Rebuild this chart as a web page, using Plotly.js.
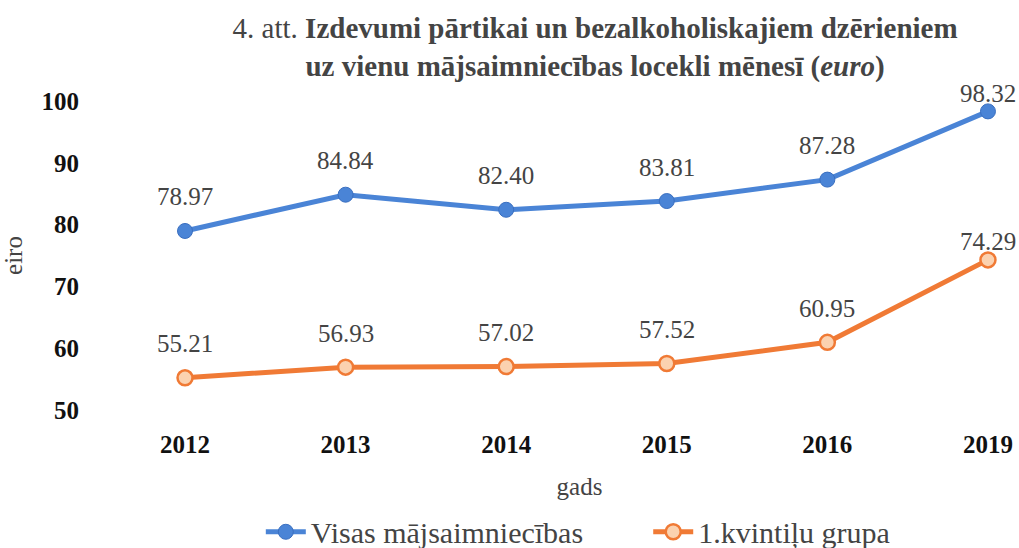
<!DOCTYPE html>
<html><head><meta charset="utf-8">
<script src="https://cdn.plot.ly/plotly-3.0.1.min.js"></script>
<style>body{margin:0;background:#fff}#c{width:1019px;height:548px}</style>
</head><body><div id="c"></div>
<script>
const years = ['2012','2013','2014','2015','2016','2019'];
const allHouseholds = [78.97, 84.84, 82.40, 83.81, 87.28, 98.32];
const quintile1 = [55.21, 56.93, 57.02, 57.52, 60.95, 74.29];
const seriesNames = ['Visas mājsaimniecības', '1.kvintiļu grupa'];

const FONT = 'Times New Roman';
const blue = '#4a84d6', orange = '#f07a35';

const traces = [
  {x: years, y: allHouseholds, name: seriesNames[0], type: 'scatter', mode: 'lines+markers', legend: 'legend',
   line: {color: blue, width: 5}, marker: {size: 15, color: blue, line: {color: '#3a6fc0', width: 1}}},
  {x: years, y: quintile1, name: seriesNames[1], type: 'scatter', mode: 'lines+markers', legend: 'legend2',
   line: {color: orange, width: 5}, marker: {size: 15, color: '#fbd2b0', line: {color: orange, width: 2.5}}}
];

const annotations = [];
[allHouseholds, quintile1].forEach(arr => {
  arr.forEach((v, i) => {
    annotations.push({xref: 'x', yref: 'y', x: i, y: v, text: v.toFixed(2), showarrow: false,
      yshift: i === arr.length - 1 ? 18 : 34, font: {family: FONT, size: 25}});
  });
});

const legendStyle = {orientation: 'h', xanchor: 'left', y: -0.31, yanchor: 'top',
  font: {family: FONT, size: 30}, itemwidth: 40, bgcolor: 'rgba(0,0,0,0)'};

const layout = {
  width: 1019, height: 548,
  margin: {l: 150, r: 10, t: 101, b: 138, autoexpand: false},
  paper_bgcolor: '#fff', plot_bgcolor: '#fff',
  font: {family: FONT},
  title: {text: '4. att. <b>Izdevumi pārtikai un bezalkoholiskajiem dzērieniem</b><br><b>uz vienu mājsaimniecības locekli mēnesī (<i>euro</i>)</b>',
    font: {family: FONT, size: 29}, x: 0.584, xanchor: 'center', yref: 'container', y: 0.93, yanchor: 'top'},
  xaxis: {type: 'category', range: [-0.218, 5.131], showgrid: false, zeroline: false, showline: false,
    ticks: '', tickfont: {family: FONT, size: 25, color: '#111', weight: 'bold'}, ticklabelstandoff: 17,
    title: {text: 'gads', font: {family: FONT, size: 25}, standoff: 20}},
  yaxis: {range: [50, 100], dtick: 10, showgrid: false, zeroline: false, showline: false,
    ticks: '', tickfont: {family: FONT, size: 25, color: '#111', weight: 'bold'}, ticklabelstandoff: 70,
    title: {text: 'eiro', font: {family: FONT, size: 25}, standoff: 16}},
  showlegend: true,
  legend: Object.assign({x: 0.129}, legendStyle),
  legend2: Object.assign({x: 0.58}, legendStyle),
  annotations: annotations
};

Plotly.newPlot('c', traces, layout, {displayModeBar: false});
</script></body></html>
